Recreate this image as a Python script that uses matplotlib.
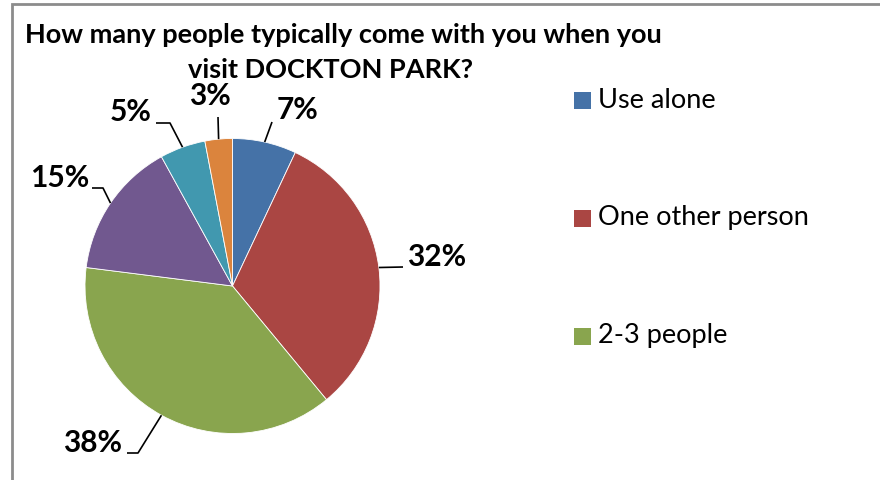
import numpy as np
import matplotlib
matplotlib.use("Agg")
import matplotlib.pyplot as plt
from matplotlib.patches import Rectangle

# ---- data ----
categories = ["Use alone", "One other person", "2-3 people", "4-5 people", "6+ people", "Other"]
values = [7, 32, 38, 15, 5, 3]
pct_labels = ["7%", "32%", "38%", "15%", "5%", "3%"]
legend_shown = 3  # only first three entries visible in the reference (legend is clipped)
colors = ["#4572A7", "#AA4643", "#89A54E", "#71588F", "#4198AF", "#DB843D"]

title_lines = ["How many people typically come with you when you", "visit DOCKTON PARK?"]

W, H = 880, 480
fig = plt.figure(figsize=(W / 100, H / 100), dpi=100)
ax = fig.add_axes([0, 0, 1, 1])
ax.set_xlim(0, W)
ax.set_ylim(0, H)
ax.set_aspect("equal")
ax.axis("off")

FONT = "Lato"

# border (chart area frame, clipped at right/bottom)
ax.add_patch(Rectangle((12, -10), W, H - 4 + 10, fill=False, edgecolor="#8c8c8c", linewidth=2.0))

# pie
cx, cy, R = 232.5, 194, 147.5
wedges, _ = ax.pie(values, colors=colors, startangle=90, counterclock=False,
                   center=(cx, cy), radius=R,
                   wedgeprops=dict(edgecolor="white", linewidth=0.6))
ax.set_xlim(0, W)
ax.set_ylim(0, H)

# label layout: label centre and leader-line path (pixels from top-left)
layout = [
    dict(text=(297, 110), path=[(272, 122)]),
    dict(text=(437, 257), path=[(403, 267)]),
    dict(text=(93, 443), path=[(138, 453), (127, 453)]),
    dict(text=(60, 178), path=[(103, 188), (92, 188)]),
    dict(text=(131, 112), path=[(170, 123), (156, 123)]),
    dict(text=(210, 96), path=[(218, 117)]),
]

total = float(sum(values))
cum = 0.0
for v, lab, lay in zip(values, pct_labels, layout):
    mid = 90 - (cum + v / 2) / total * 360
    cum += v
    ex = cx + R * np.cos(np.radians(mid))
    ey = cy + R * np.sin(np.radians(mid))
    xs = [ex] + [p[0] for p in lay["path"]]
    ys = [ey] + [H - p[1] for p in lay["path"]]
    ax.plot(xs, ys, color="black", linewidth=1.2, solid_capstyle="butt")
    tx, ty = lay["text"]
    ax.text(tx, H - ty, lab, ha="center", va="center", fontsize=21.5,
            fontweight="bold", family=FONT, color="black")

# title
ax.text(343, H - 35, title_lines[0], ha="center", va="center", fontsize=19.5,
        fontweight="bold", family=FONT)
ax.text(330, H - 70, title_lines[1], ha="center", va="center", fontsize=19.5,
        fontweight="bold", family=FONT)

# legend (manual, first entries only)
leg_y = [100, 218, 336]
for i in range(legend_shown):
    y = leg_y[i]
    ax.add_patch(Rectangle((574, H - y - 8.5), 17, 17, facecolor=colors[i], edgecolor="none"))
    ax.text(598, H - y, categories[i], ha="left", va="center", fontsize=19.5, family=FONT)

fig.savefig("out.png", dpi=100)
